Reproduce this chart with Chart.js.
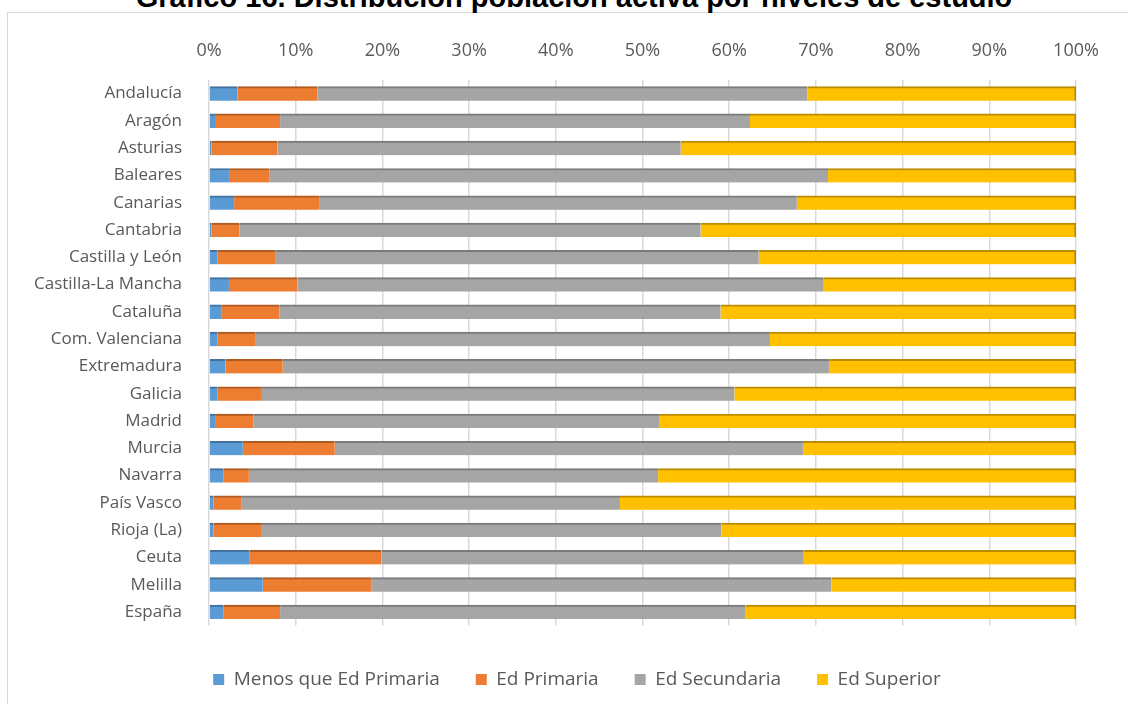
<!DOCTYPE html>
<html>
<head>
<meta charset="utf-8">
<script src="https://cdn.jsdelivr.net/npm/chart.js@4/dist/chart.umd.min.js"></script>
<style>
  html, body { margin: 0; padding: 0; background: #fff; }
  #wrap { position: relative; width: 1128px; height: 704px; overflow: hidden; }
  #frame { position: absolute; left: 7px; top: 12px; width: 1400px; height: 900px; border: 1px solid #d9d9d9; }
  #title {
    position: absolute; left: 0; top: -17px; width: 1148px; text-align: center;
    font: bold 29px "Liberation Sans", Arial, sans-serif; line-height: 29px; color: #000;
  }
  #chart { position: absolute; left: 0; top: 0; }
</style>
</head>
<body>
<div id="wrap">
  <div id="frame"></div>
  <div id="title">Gráfico 16. Distribución población activa por niveles de estudio</div>
  <canvas id="chart" width="1128" height="740"></canvas>
</div>
<script>
// DATA (%)
const regions = [
  "Andalucía", "Aragón", "Asturias", "Baleares", "Canarias", "Cantabria",
  "Castilla y León", "Castilla-La Mancha", "Cataluña", "Com. Valenciana",
  "Extremadura", "Galicia", "Madrid", "Murcia", "Navarra", "País Vasco",
  "Rioja (La)", "Ceuta", "Melilla", "España"
];
const menosPrimaria = [3.3, 0.8, 0.3, 2.3, 2.9, 0.3, 1.0, 2.3, 1.4, 1.0, 1.9, 1.0, 0.7, 3.9, 1.7, 0.5, 0.5, 4.7, 6.2, 1.7];
const primaria      = [9.2, 7.4, 7.6, 4.7, 9.8, 3.2, 6.7, 7.9, 6.7, 4.4, 6.6, 5.1, 4.4, 10.6, 2.9, 3.2, 5.5, 15.2, 12.5, 6.5];
const secundaria    = [56.5, 54.2, 46.5, 64.4, 55.1, 53.2, 55.7, 60.7, 50.9, 59.3, 63.0, 54.5, 46.8, 54.0, 47.2, 43.7, 53.1, 48.7, 53.1, 53.7];
const superior      = [31.0, 37.6, 45.6, 28.6, 32.2, 43.3, 36.6, 29.1, 41.0, 35.3, 28.5, 39.4, 48.1, 31.5, 48.2, 52.6, 40.9, 31.4, 28.2, 38.1];
const seriesNames = ["Menos que Ed Primaria", "Ed Primaria", "Ed Secundaria", "Ed Superior"];
const xTicks = [0, 10, 20, 30, 40, 50, 60, 70, 80, 90, 100];

const FONT = "'Open Sans', 'Noto Sans', sans-serif";
const TEXT = "#595959";

function makeSet(label, data, color, edge, last) {
  return {
    label,
    data,
    backgroundColor: color,
    borderColor: edge,
    borderWidth: { top: 2, right: last ? 2 : 0, bottom: 0, left: 0 },
    borderSkipped: false,
    barThickness: 14,
  };
}

// legend in the original sits centred on the whole frame, nudge it right
const legendShift = {
  id: "legendShift",
  afterLayout(chart) {
    chart.legend.left += 39;
    chart.legend.right += 39;
  },
};

const canvas = document.getElementById("chart");

new Chart(canvas, {
  type: "bar",
  data: {
    labels: regions,
    datasets: [
      makeSet(seriesNames[0], menosPrimaria, "#5b9bd5", "#41719c", false),
      makeSet(seriesNames[1], primaria, "#ed7d31", "#ae5a21", false),
      makeSet(seriesNames[2], secundaria, "#a5a5a5", "#7b7b7b", false),
      makeSet(seriesNames[3], superior, "#ffc000", "#bc8c00", true),
    ],
  },
  plugins: [legendShift],
  options: {
    indexAxis: "y",
    responsive: false,
    animation: false,
    layout: { padding: { left: 0, right: 52, top: 0, bottom: 41 } },
    plugins: {
      tooltip: { enabled: false },
      legend: {
        position: "bottom",
        // empty title just pushes the legend row down a little
        title: { display: true, text: " ", font: { size: 7 }, padding: 0 },
        labels: {
          color: TEXT,
          font: { family: FONT, size: 19 },
          boxWidth: 11,
          boxHeight: 11,
          padding: 36,
          generateLabels(chart) {
            return chart.data.datasets.map((ds, i) => ({
              text: ds.label,
              fillStyle: ds.backgroundColor,
              strokeStyle: ds.backgroundColor,
              lineWidth: 0,
              fontColor: TEXT,
              datasetIndex: i,
              hidden: false,
            }));
          },
        },
      },
    },
    scales: {
      x: {
        position: "top",
        stacked: true,
        min: 0,
        max: 100,
        afterBuildTicks(scale) {
          scale.ticks = xTicks.map((v) => ({ value: v }));
        },
        afterFit(scale) {
          scale.height = 80;
        },
        ticks: {
          color: TEXT,
          font: { family: FONT, size: 18 },
          padding: 18,
          callback: (v) => v + "%",
        },
        grid: { color: "#d9d9d9", lineWidth: 1.5, drawTicks: false },
        border: { display: false },
      },
      y: {
        stacked: true,
        afterFit(scale) {
          scale.width = 209;
        },
        ticks: {
          color: TEXT,
          font: { family: FONT, size: 17 },
          padding: 27,
        },
        grid: { display: false, drawTicks: false },
        border: { display: false },
      },
    },
  },
});
</script>
</body>
</html>
